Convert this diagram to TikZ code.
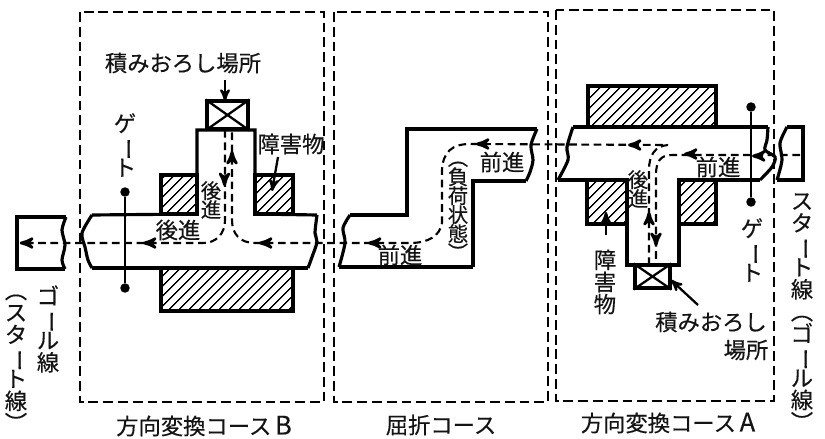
\documentclass[tikz,border=0pt]{standalone}
\usepackage{fontspec}
\usetikzlibrary{arrows,patterns.meta}
\newfontfamily\jpfont[FakeBold=0.35]{Noto Sans CJK JP}
\newcommand{\vbar}{\rotatebox[origin=c]{-90}{ー}}

\tikzset{
  lab/.style={inner sep=0pt,align=center,text=black!92,
    font=\jpfont\fontsize{12.7}{12.6}\selectfont\lineskiplimit -2em\relax},
  labsmall/.style={lab,font=\jpfont\fontsize{11.6}{10.8}\selectfont\lineskiplimit -2em\relax},
  zone/.style={draw,line width=1.3pt,dash pattern=on 5.6pt off 2.8pt},
  pipe/.style={draw,line width=1.8pt,line join=miter},
  block/.style={draw,line width=1.8pt,pattern={Lines[angle=45,distance=4pt,line width=.8pt]}},
  run/.style={line width=1.2pt,dash pattern=on 4.4pt off 2.6pt},
  runtip/.style={->,>=stealth',line width=1.6pt},
  leader/.style={->,>=stealth',line width=1.3pt},
  unload/.style={draw,line width=1.8pt,inner sep=0pt,minimum width=#1},
  gatedot/.style={circle,fill,inner sep=0pt,minimum size=5.4pt}
}

\begin{document}
\begin{tikzpicture}[x=0.02cm,y=-0.02cm]
  \useasboundingbox (0,0) rectangle (825,439);

  % Course zones
  \path[zone] (80,12) rectangle (324,402);
  \path[zone] (334,12) rectangle (548,402);
  \path[zone] (556,10) rectangle (774,401);

  % Course B
  \path[block] (161,175) rectangle (197,214);
  \path[block] (255,175) rectangle (293,214);
  \path[block] (161,268) rectangle (293,311);
  \path[pipe] (197,214) -- (197,130) -- (255,130) -- (255,214) -- (317,215);
  \path[pipe] (197,214) -- (92,215);
  \path[pipe] (92,268) -- (308,268);
  \draw[pipe] plot[smooth] coordinates {(92,215) (82,233) (85,247) (88,260) (92,268)};
  \draw[pipe] plot[smooth] coordinates {(317,215) (315,233) (317,242) (312,257) (308,268)};
  \draw[pipe] (66,217) -- (17,217) -- (17,269) -- (65,269);
  \draw[pipe] plot[smooth] coordinates {(66,217) (62,230) (65,245) (62,260) (65,269)};

  \node[unload=41*0.567pt,minimum height=28*0.567pt] (unloadB) at (227.5,115) {};
  \draw[line width=1.3pt] (unloadB.north west) -- (unloadB.south east)
    (unloadB.north east) -- (unloadB.south west);

  \node[gatedot] (gateBtop) at (125,192) {};
  \node[gatedot] (gateBbot) at (125,288) {};
  \draw[line width=1.5pt] (gateBtop) -- (gateBbot);

  % Bent course
  \path[pipe] (473,267) -- (339,267);
  \path[pipe] (350,215) -- (407,215) -- (407,129) -- (537,129);
  \path[pipe] (526,181) -- (473,181) -- (473,267);
  \draw[pipe] plot[smooth] coordinates {(339,267) (345,243) (343,228) (350,215)};
  \draw[pipe] plot[smooth] coordinates {(537,129) (531,145) (533,160) (530,172) (526,181)};

  % Course A
  \path[block] (588,86) rectangle (716,127);
  \path[block] (587,180) rectangle (627,224);
  \path[block] (679,180) rectangle (716,224);
  \path[pipe] (573,127) -- (768,127);
  \path[pipe] (558,180) -- (627,180) -- (627,265) -- (679,265) -- (679,180) -- (760,180);
  \draw[pipe] plot[smooth] coordinates {(573,127) (567,147) (568,160) (558,180)};
  \draw[pipe] plot[smooth] coordinates {(768,127) (767,140) (765,150) (775,157) (772,167) (760,180)};
  \draw[pipe] (787,127) -- (803,127) -- (803,180) -- (777,180);
  \draw[pipe] plot[smooth] coordinates {(787,127) (780,143) (782,160) (777,180)};

  \node[unload=35*0.567pt,minimum height=23*0.567pt] (unloadA) at (652.5,276.5) {};
  \draw[line width=1.3pt] (unloadA.north west) -- (unloadA.south east)
    (unloadA.north east) -- (unloadA.south west);

  \node[gatedot] (gateAtop) at (751,107) {};
  \node[gatedot] (gateAbot) at (751,202) {};
  \draw[line width=1.5pt] (gateAtop) -- (gateAbot);

  % Running line, start to goal
  \draw[run] (800,155) -- (672,155) .. controls (660,155) and (656,162) .. (656,175) -- (656,265)
    (649,265) -- (649,170) .. controls (649,155) and (655,146) .. (668,145) -- (470,144)
    .. controls (452,144) and (443,152) .. (442,170) -- (442,223)
    .. controls (440,236) and (428,243) .. (410,243) -- (255,243)
    .. controls (240,243) and (232,234) .. (232,220) -- (232,130)
    (225,130) -- (225,220) .. controls (225,234) and (216,243) .. (203,243) -- (20,243);

  \draw[runtip] (761,156) -- (752,156);
  \draw[runtip] (694,154) -- (684,154);
  \draw[runtip] (638,145) -- (628,145);
  \draw[runtip] (649,222) -- (649,212);
  \draw[runtip] (656,236) -- (656,246);
  \draw[runtip] (486,144) -- (476,144);
  \draw[runtip] (378,243) -- (368,243);
  \draw[runtip] (269,243) -- (259,243);
  \draw[runtip] (232,161) -- (232,151);
  \draw[runtip] (224.5,176) -- (224.5,186);
  \draw[runtip] (153,243) -- (143,243);
  \draw[runtip] (30,243) -- (20,243);

  % Labels, course B
  \node[lab] (placeB) at (183,63) {積みおろし場所};
  \node[lab] (obstB) at (291,144) {障害物};
  \node[lab] (gateB) at (125,145) {ゲ\\\vbar\\ト};
  \node[labsmall] (backBv) at (211,200) {後\\進};
  \node[lab] (backBh) at (178,230) {後進};
  \node[lab] (goalB) at (48,329) {ゴ\\\vbar\\ル\\線};
  \node[lab] (startB) at (16,363) {︵\\ス\\タ\\\vbar\\ト\\線\\︶};
  \node[lab] (titleB) at (204,426) {方向変換コース\,{\fontsize{14.5}{14.5}\selectfont B}};

  % Labels, bent course
  \node[lab] (fwdUp) at (502,162) {前進};
  \node[lab] (fwdLow) at (400,255) {前進};
  \node[labsmall] (loaded) at (458,211) {︵\\負\\荷\\状\\態\\︶};
  \node[lab] (titleM) at (441,425) {屈折コース};

  % Labels, course A
  \node[lab] (fwdA) at (718,167) {前進};
  \node[labsmall] (backA) at (638,189) {後\\進};
  \node[lab] (obstA) at (605,282) {障\\害\\物};
  \node[lab] (gateA) at (752,250) {ゲ\\\vbar\\ト};
  \node[lab] (startA) at (802,312) {ス\\タ\\\vbar\\ト\\線\\︵\\ゴ\\\vbar\\ル\\線\\︶};
  \node[lab] (placeAa) at (711,322) {積みおろし};
  \node[lab] (placeAb) at (746,350) {場所};
  \node[lab] (titleA) at (668,423) {方向変換コース\,{\fontsize{14.5}{14.5}\selectfont A}};

  % Leaders
  \coordinate (leadB) at (225,80);
  \coordinate (tipB) at (225,101);
  \coordinate (leadOb) at (278,157);
  \coordinate (tipOb) at (272,191);
  \coordinate (leadOa) at (606,235);
  \coordinate (tipOa) at (606,212);
  \coordinate (leadA) at (698,305);
  \coordinate (tipA) at (671,280);
  \draw[leader] (leadB) -- (tipB);
  \draw[leader] (leadOb) -- (tipOb);
  \draw[leader] (leadOa) -- (tipOa);
  \draw[leader] (leadA) -- (tipA);
\end{tikzpicture}
\end{document}
